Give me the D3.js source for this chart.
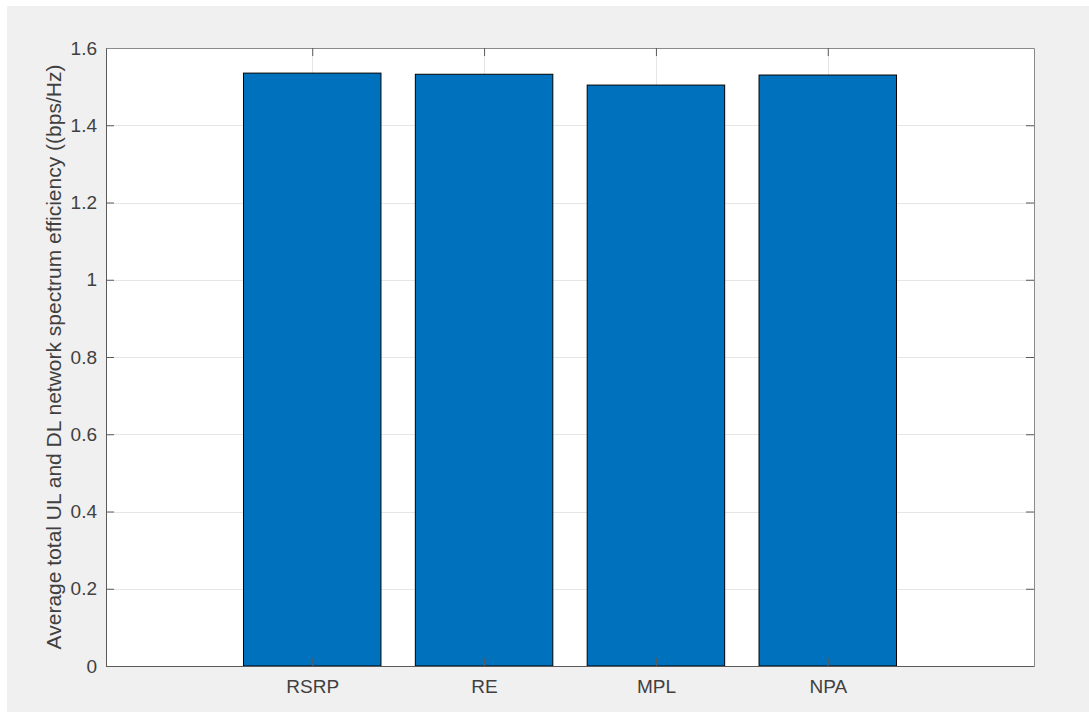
<!DOCTYPE html>
<html>
<head>
<meta charset="utf-8">
<script src="https://cdn.jsdelivr.net/npm/d3@7"></script>
<style>
  html, body { margin: 0; padding: 0; background: #ffffff; }
  svg { display: block; }
  text { font-family: "Liberation Sans", Arial, sans-serif; }
</style>
</head>
<body>
<svg id="chart" width="1089" height="713"></svg>
<script>
// Categories and average spectrum efficiency per method
const categories = ["RSRP", "RE", "MPL", "NPA"];
const values = [1.535, 1.532, 1.504, 1.530];
const yTicks = [0, 0.2, 0.4, 0.6, 0.8, 1, 1.2, 1.4, 1.6];
const yLabel = "Average total UL and DL network spectrum efficiency ((bps/Hz)";

const W = 1089, H = 713;
const margin = { left: 106, right: 55, top: 48, bottom: 47 };
const svg = d3.select("#chart");

// figure background
svg.append("rect").attr("x", 7).attr("y", 6).attr("width", W - 7).attr("height", H - 7)
  .attr("fill", "#f0f0f0");

const x = d3.scaleLinear().domain([-0.2, 5.2]).range([margin.left, W - margin.right]);
const y = d3.scaleLinear().domain([0, 1.6]).range([H - margin.bottom, margin.top]);
const x0 = x.range()[0], x1 = x.range()[1], y0 = y.range()[0], y1 = y.range()[1];
const pos = categories.map((c, i) => i + 1);

// axes area
svg.append("rect").attr("x", x0).attr("y", y1).attr("width", x1 - x0).attr("height", y0 - y1)
  .attr("fill", "#ffffff");

// grid lines
const grid = svg.append("g").attr("stroke", "#e6e6e6").attr("stroke-width", 1);
yTicks.forEach(t => {
  grid.append("line").attr("x1", x0).attr("x2", x1)
    .attr("y1", Math.round(y(t)) + 0.5).attr("y2", Math.round(y(t)) + 0.5);
});
pos.forEach(p => {
  grid.append("line").attr("y1", y1).attr("y2", y0)
    .attr("x1", Math.round(x(p)) + 0.5).attr("x2", Math.round(x(p)) + 0.5);
});

// bars
const bw = 0.8;
svg.append("g").selectAll("rect").data(values).join("rect")
  .attr("x", (d, i) => x(pos[i] - bw / 2))
  .attr("width", (d, i) => x(pos[i] + bw / 2) - x(pos[i] - bw / 2))
  .attr("y", d => y(d))
  .attr("height", d => y(0) - y(d))
  .attr("fill", "#0072bd")
  .attr("stroke", "#000000")
  .attr("stroke-width", 1);

// axes with inward ticks
const tickLen = 8;
const axisColor = "#5a5a5a";
const leftAxis = d3.axisLeft(y).tickValues(yTicks).tickSizeInner(-tickLen).tickSizeOuter(0)
  .tickPadding(9).tickFormat(d3.format("~g"));
const gl = svg.append("g").attr("transform", `translate(${x0},0)`).call(leftAxis);
const rightAxis = d3.axisRight(y).tickValues(yTicks).tickSizeInner(-tickLen).tickSizeOuter(0)
  .tickFormat("");
const gr = svg.append("g").attr("transform", `translate(${x1},0)`).call(rightAxis);
const bottomAxis = d3.axisBottom(x).tickValues(pos).tickSizeInner(-tickLen).tickSizeOuter(0)
  .tickPadding(14).tickFormat((d, i) => categories[i]);
const gb = svg.append("g").attr("transform", `translate(0,${y0})`).call(bottomAxis);
const topAxis = d3.axisTop(x).tickValues(pos).tickSizeInner(-tickLen).tickSizeOuter(0)
  .tickFormat("");
const gt = svg.append("g").attr("transform", `translate(0,${y1})`).call(topAxis);

[gl, gr, gb, gt].forEach(g => {
  g.attr("font-size", null).attr("font-family", null);
  g.selectAll("path.domain").attr("stroke", axisColor).attr("stroke-width", 1);
  g.selectAll(".tick line").attr("stroke", axisColor);
  g.selectAll("text").attr("fill", "#404040").style("font-size", "19px")
    .style("font-family", "'Liberation Sans', Arial, sans-serif");
});
gr.selectAll("path.domain").attr("stroke", "#8a8a8a");
gt.selectAll("path.domain").attr("stroke", "#8a8a8a");

// y axis title
svg.append("text")
  .attr("transform", `translate(61,${(y0 + y1) / 2}) rotate(-90)`)
  .attr("text-anchor", "middle")
  .attr("fill", "#404040")
  .style("font-size", "21px")
  .text(yLabel);
</script>
</body>
</html>
